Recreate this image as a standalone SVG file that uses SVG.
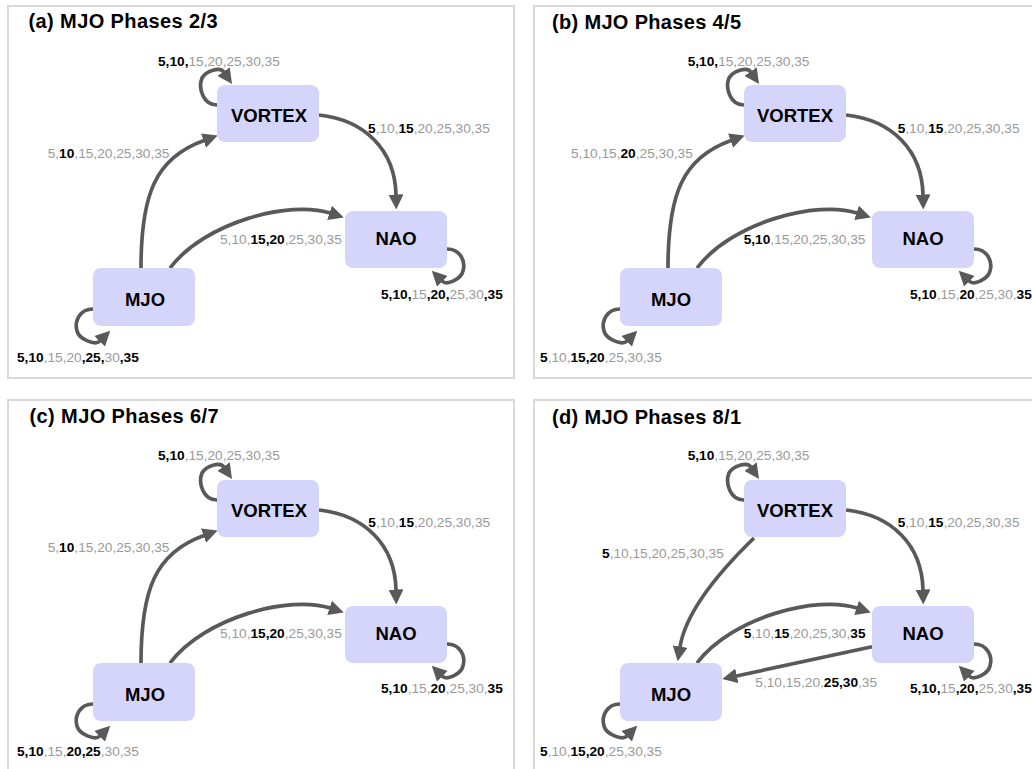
<svg xmlns="http://www.w3.org/2000/svg" width="1032" height="769" viewBox="0 0 1032 769">
<defs>
<style>
.frame{fill:#fff;stroke:#d9d9d9;stroke-width:2}
.nr{fill:#d5d5fb}
.nt{font-family:"Liberation Sans",Arial,sans-serif;font-weight:bold;font-size:18.5px;fill:#000;text-anchor:middle}
.ttl{font-family:"Liberation Sans",Arial,sans-serif;font-weight:bold;font-size:20px;fill:#000}
.lbl{font-family:"Liberation Sans",Arial,sans-serif;font-size:13.7px;fill:#9a9a9a}
.b{font-weight:bold;fill:#000}
.e{fill:none;stroke:#595959;stroke-width:3.7;marker-end:url(#ah)}
</style>
<marker id="ah" markerUnits="userSpaceOnUse" viewBox="0 0 15 15" markerWidth="15" markerHeight="15" refX="0.5" refY="7.5" orient="auto">
<path d="M0,0 L15,7.5 L0,15 z" fill="#595959"/>
</marker>
<g id="loops3">
<path class="e" d="M217,105 C203,105 198,88 202,78 C206,71 220,66.5 223.8,72"/>
<path class="e" d="M447,249 C460,249 466,261 463,271 C461,279 447,286 442,281"/>
<path class="e" d="M93,309 C80,309 74,321 77,331 C79,339 95,346 100,341"/>
</g>
</defs>
<rect width="1032" height="769" fill="#fff"/>

<!-- frames -->
<rect class="frame" x="8" y="6" width="506" height="372"/>
<rect class="frame" x="534" y="6" width="506" height="372"/>
<rect class="frame" x="8" y="400" width="506" height="372"/>
<rect class="frame" x="534" y="400" width="506" height="372"/>

<!-- titles -->
<text class="ttl" x="28.5" y="27.5" textLength="189" lengthAdjust="spacing">(a) MJO Phases 2/3</text>
<text class="ttl" x="552" y="28.5" textLength="189" lengthAdjust="spacing">(b) MJO Phases 4/5</text>
<text class="ttl" x="29.5" y="422.5" textLength="189" lengthAdjust="spacing">(c) MJO Phases 6/7</text>
<text class="ttl" x="552" y="423.5" textLength="189" lengthAdjust="spacing">(d) MJO Phases 8/1</text>

<!-- connectors -->
<g id="a-connectors">
<use href="#loops3"/>
<path class="e" d="M141,268 C141,195 155,158 204,140.5"/>
<path class="e" d="M319,115 C365,120 395,150 396,195"/>
<path class="e" d="M170,268 C205,222 290,200 330,213"/>
</g>
<g id="b-connectors" transform="translate(527,0)">
<use href="#loops3"/>
<path class="e" d="M141,268 C141,195 155,158 204,140.5"/>
<path class="e" d="M319,115 C365,120 395,150 396,195"/>
<path class="e" d="M170,268 C205,222 290,200 330,213"/>
</g>
<g id="c-connectors" transform="translate(0,395)">
<use href="#loops3"/>
<path class="e" d="M141,268 C141,195 155,158 204,140.5"/>
<path class="e" d="M319,115 C365,120 395,150 396,195"/>
<path class="e" d="M170,268 C205,222 290,200 330,213"/>
</g>
<g id="d-connectors" transform="translate(527,395)">
<use href="#loops3"/>
<path class="e" d="M227,143 C194,175 159,215 153,252"/>
<path class="e" d="M319,115 C365,120 395,150 396,195"/>
<path class="e" d="M170,268 C205,222 290,200 330,213"/>
<path class="e" d="M345,251.7 L209.4,281"/>
</g>

<!-- nodes -->
<g id="a-nodes">
<g id="a-vortex"><rect class="nr" x="217" y="85" width="102" height="57" rx="8"/><text class="nt" x="269" y="122">VORTEX</text></g>
<g id="a-nao"><rect class="nr" x="345" y="211" width="102" height="57" rx="8"/><text class="nt" x="396" y="245">NAO</text></g>
<g id="a-mjo"><rect class="nr" x="93" y="268" width="102" height="58" rx="8"/><text class="nt" x="145" y="306">MJO</text></g>
</g>
<g id="b-nodes" transform="translate(527,0)">
<g id="b-vortex"><rect class="nr" x="217" y="85" width="102" height="57" rx="8"/><text class="nt" x="268" y="122">VORTEX</text></g>
<g id="b-nao"><rect class="nr" x="345" y="211" width="102" height="57" rx="8"/><text class="nt" x="396" y="245">NAO</text></g>
<g id="b-mjo"><rect class="nr" x="93" y="268" width="102" height="58" rx="8"/><text class="nt" x="144" y="306">MJO</text></g>
</g>
<g id="c-nodes" transform="translate(0,395)">
<g id="c-vortex"><rect class="nr" x="217" y="85" width="102" height="57" rx="8"/><text class="nt" x="269" y="122">VORTEX</text></g>
<g id="c-nao"><rect class="nr" x="345" y="211" width="102" height="57" rx="8"/><text class="nt" x="396" y="245">NAO</text></g>
<g id="c-mjo"><rect class="nr" x="93" y="268" width="102" height="58" rx="8"/><text class="nt" x="145" y="306">MJO</text></g>
</g>
<g id="d-nodes" transform="translate(527,395)">
<g id="d-vortex"><rect class="nr" x="217" y="85" width="102" height="57" rx="8"/><text class="nt" x="268" y="122">VORTEX</text></g>
<g id="d-nao"><rect class="nr" x="345" y="211" width="102" height="57" rx="8"/><text class="nt" x="396" y="245">NAO</text></g>
<g id="d-mjo"><rect class="nr" x="93" y="268" width="102" height="58" rx="8"/><text class="nt" x="144" y="306">MJO</text></g>
</g>

<!-- labels -->
<g id="a-labels">
<text class="lbl" x="158" y="66"><tspan class="b">5,10,</tspan>15,20,25,30,35</text>
<text class="lbl" x="47.7" y="158">5,<tspan class="b">10</tspan>,15,20,25,30,35</text>
<text class="lbl" x="368" y="133"><tspan class="b">5</tspan>,10,<tspan class="b">15</tspan>,20,25,30,35</text>
<text class="lbl" x="220" y="244">5,10,<tspan class="b">15,20</tspan>,25,30,35</text>
<text class="lbl" x="381" y="299"><tspan class="b">5,10,</tspan>15<tspan class="b">,20,</tspan>25,30<tspan class="b">,35</tspan></text>
<text class="lbl" x="17" y="362"><tspan class="b">5,10</tspan>,15,20<tspan class="b">,25,</tspan>30<tspan class="b">,35</tspan></text>
</g>
<g id="b-labels">
<text class="lbl" x="687.7" y="66"><tspan class="b">5,10,</tspan>15,20,25,30,35</text>
<text class="lbl" x="571" y="158">5,10,15,<tspan class="b">20</tspan>,25,30,35</text>
<text class="lbl" x="897.7" y="133"><tspan class="b">5</tspan>,10,<tspan class="b">15</tspan>,20,25,30,35</text>
<text class="lbl" x="743.7" y="244"><tspan class="b">5,10</tspan>,15,20,25,30,35</text>
<text class="lbl" x="910" y="299"><tspan class="b">5,10</tspan>,15,<tspan class="b">20</tspan>,25,30,<tspan class="b">35</tspan></text>
<text class="lbl" x="540" y="362"><tspan class="b">5</tspan>,10,<tspan class="b">15,20</tspan>,25,30,35</text>
</g>
<g id="c-labels">
<text class="lbl" x="158" y="459.7"><tspan class="b">5,10</tspan>,15,20,25,30,35</text>
<text class="lbl" x="47.7" y="552.3">5,<tspan class="b">10</tspan>,15,20,25,30,35</text>
<text class="lbl" x="368.3" y="527.3"><tspan class="b">5</tspan>,10,<tspan class="b">15</tspan>,20,25,30,35</text>
<text class="lbl" x="220" y="638">5,10,<tspan class="b">15,20</tspan>,25,30,35</text>
<text class="lbl" x="381" y="693"><tspan class="b">5,10</tspan>,15,<tspan class="b">20</tspan>,25,30,<tspan class="b">35</tspan></text>
<text class="lbl" x="17" y="755.7"><tspan class="b">5,10</tspan>,15,<tspan class="b">20,25</tspan>,30,35</text>
</g>
<g id="d-labels">
<text class="lbl" x="687.7" y="459.7"><tspan class="b">5,10</tspan>,15,20,25,30,35</text>
<text class="lbl" x="602" y="558"><tspan class="b">5</tspan>,10,15,20,25,30,35</text>
<text class="lbl" x="897.7" y="527.3"><tspan class="b">5</tspan>,10,<tspan class="b">15</tspan>,20,25,30,35</text>
<text class="lbl" x="743.7" y="638"><tspan class="b">5</tspan>,10,<tspan class="b">15</tspan>,20,25,30,<tspan class="b">35</tspan></text>
<text class="lbl" x="755.3" y="687">5,10,15,20,<tspan class="b">25,30</tspan>,35</text>
<text class="lbl" x="910" y="693"><tspan class="b">5,10,</tspan>15<tspan class="b">,20,</tspan>25,30<tspan class="b">,35</tspan></text>
<text class="lbl" x="540" y="755.7"><tspan class="b">5</tspan>,10,<tspan class="b">15,20</tspan>,25,30,35</text>
</g>
</svg>
